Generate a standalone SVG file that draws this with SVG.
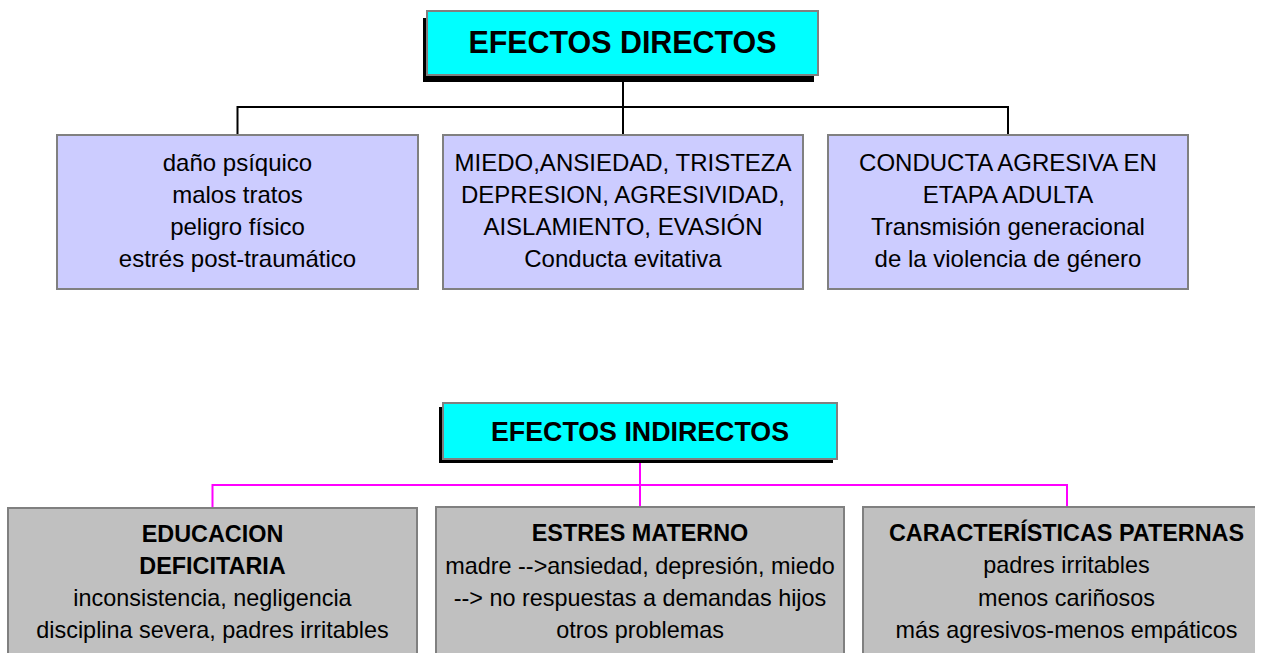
<svg xmlns="http://www.w3.org/2000/svg" width="1261" height="653" viewBox="0 0 1261 653">
<style>
.t{font-family:"Liberation Sans",Arial,sans-serif;font-size:24px;fill:#000;text-anchor:middle}
.g{font-size:23.4px}
.b{font-weight:bold}
.title{font-family:"Liberation Sans",Arial,sans-serif;font-weight:bold;fill:#000;text-anchor:middle}
.purple{fill:#ccccff;stroke:#808080;stroke-width:2}
.gray{fill:#c0c0c0;stroke:#808080;stroke-width:2}
.cyan{fill:#00ffff;stroke:#808080;stroke-width:2}
.shadow{fill:#000}
.blk{fill:none;stroke:#000;stroke-width:2}
.mag{fill:none;stroke:#ff00ff;stroke-width:2}
</style>
<rect width="1261" height="653" fill="#fff"/>
<g id="connectors">
<path class="blk" d="M623 75V135M237.5 135V107H1008V135"/>
<path class="mag" d="M640 459V507M212.5 508V485H1067V507"/>
</g>
<g id="efectos-directos">
<rect class="shadow" x="423" y="18" width="391" height="64"/>
<rect class="cyan" x="427" y="11" width="391" height="64"/>
<text class="title" x="622.5" y="53" font-size="31" textLength="308" lengthAdjust="spacingAndGlyphs">EFECTOS DIRECTOS</text>
</g>
<g id="directo-1">
<rect class="purple" x="57" y="135" width="361" height="154"/>
<text class="t" x="237.5" y="171">daño psíquico</text>
<text class="t" x="237.5" y="203">malos tratos</text>
<text class="t" x="237.5" y="235">peligro físico</text>
<text class="t" x="237.5" y="267">estrés post-traumático</text>
</g>
<g id="directo-2">
<rect class="purple" x="443" y="135" width="360" height="154"/>
<text class="t" x="623" y="171">MIEDO,ANSIEDAD, TRISTEZA</text>
<text class="t" x="623" y="203">DEPRESION, AGRESIVIDAD,</text>
<text class="t" x="623" y="235">AISLAMIENTO, EVASIÓN</text>
<text class="t" x="623" y="267">Conducta evitativa</text>
</g>
<g id="directo-3">
<rect class="purple" x="828" y="135" width="360" height="154"/>
<text class="t" x="1008" y="171">CONDUCTA AGRESIVA EN</text>
<text class="t" x="1008" y="203">ETAPA ADULTA</text>
<text class="t" x="1008" y="235">Transmisión generacional</text>
<text class="t" x="1008" y="267">de la violencia de género</text>
</g>
<g id="efectos-indirectos">
<rect class="shadow" x="439" y="407" width="394" height="56"/>
<rect class="cyan" x="443" y="403" width="394" height="56"/>
<text class="title" x="640" y="441" font-size="28" textLength="298" lengthAdjust="spacingAndGlyphs">EFECTOS INDIRECTOS</text>
</g>
<g id="indirecto-1">
<rect class="gray" x="8" y="508" width="409" height="160"/>
<text class="t g b" x="212.5" y="542">EDUCACION</text>
<text class="t g b" x="212.5" y="574">DEFICITARIA</text>
<text class="t g" x="212.5" y="606">inconsistencia, negligencia</text>
<text class="t g" x="212.5" y="638">disciplina severa, padres irritables</text>
</g>
<g id="indirecto-2">
<rect class="gray" x="436" y="507" width="408" height="160"/>
<text class="t g b" x="640" y="541">ESTRES MATERNO</text>
<text class="t g" x="640" y="574">madre --&gt;ansiedad, depresión, miedo</text>
<text class="t g" x="640" y="606">--&gt; no respuestas a demandas hijos</text>
<text class="t g" x="640" y="638">otros problemas</text>
</g>
<g id="indirecto-3">
<rect x="863" y="507" width="392" height="160" fill="#c0c0c0"/>
<path d="M863 668V507H1255" fill="none" stroke="#808080" stroke-width="2"/>
<text class="t g b" x="1066.5" y="541">CARACTERÍSTICAS PATERNAS</text>
<text class="t g" x="1066.5" y="573">padres irritables</text>
<text class="t g" x="1066.5" y="606">menos cariñosos</text>
<text class="t g" x="1066.5" y="638">más agresivos-menos empáticos</text>
</g>
</svg>
